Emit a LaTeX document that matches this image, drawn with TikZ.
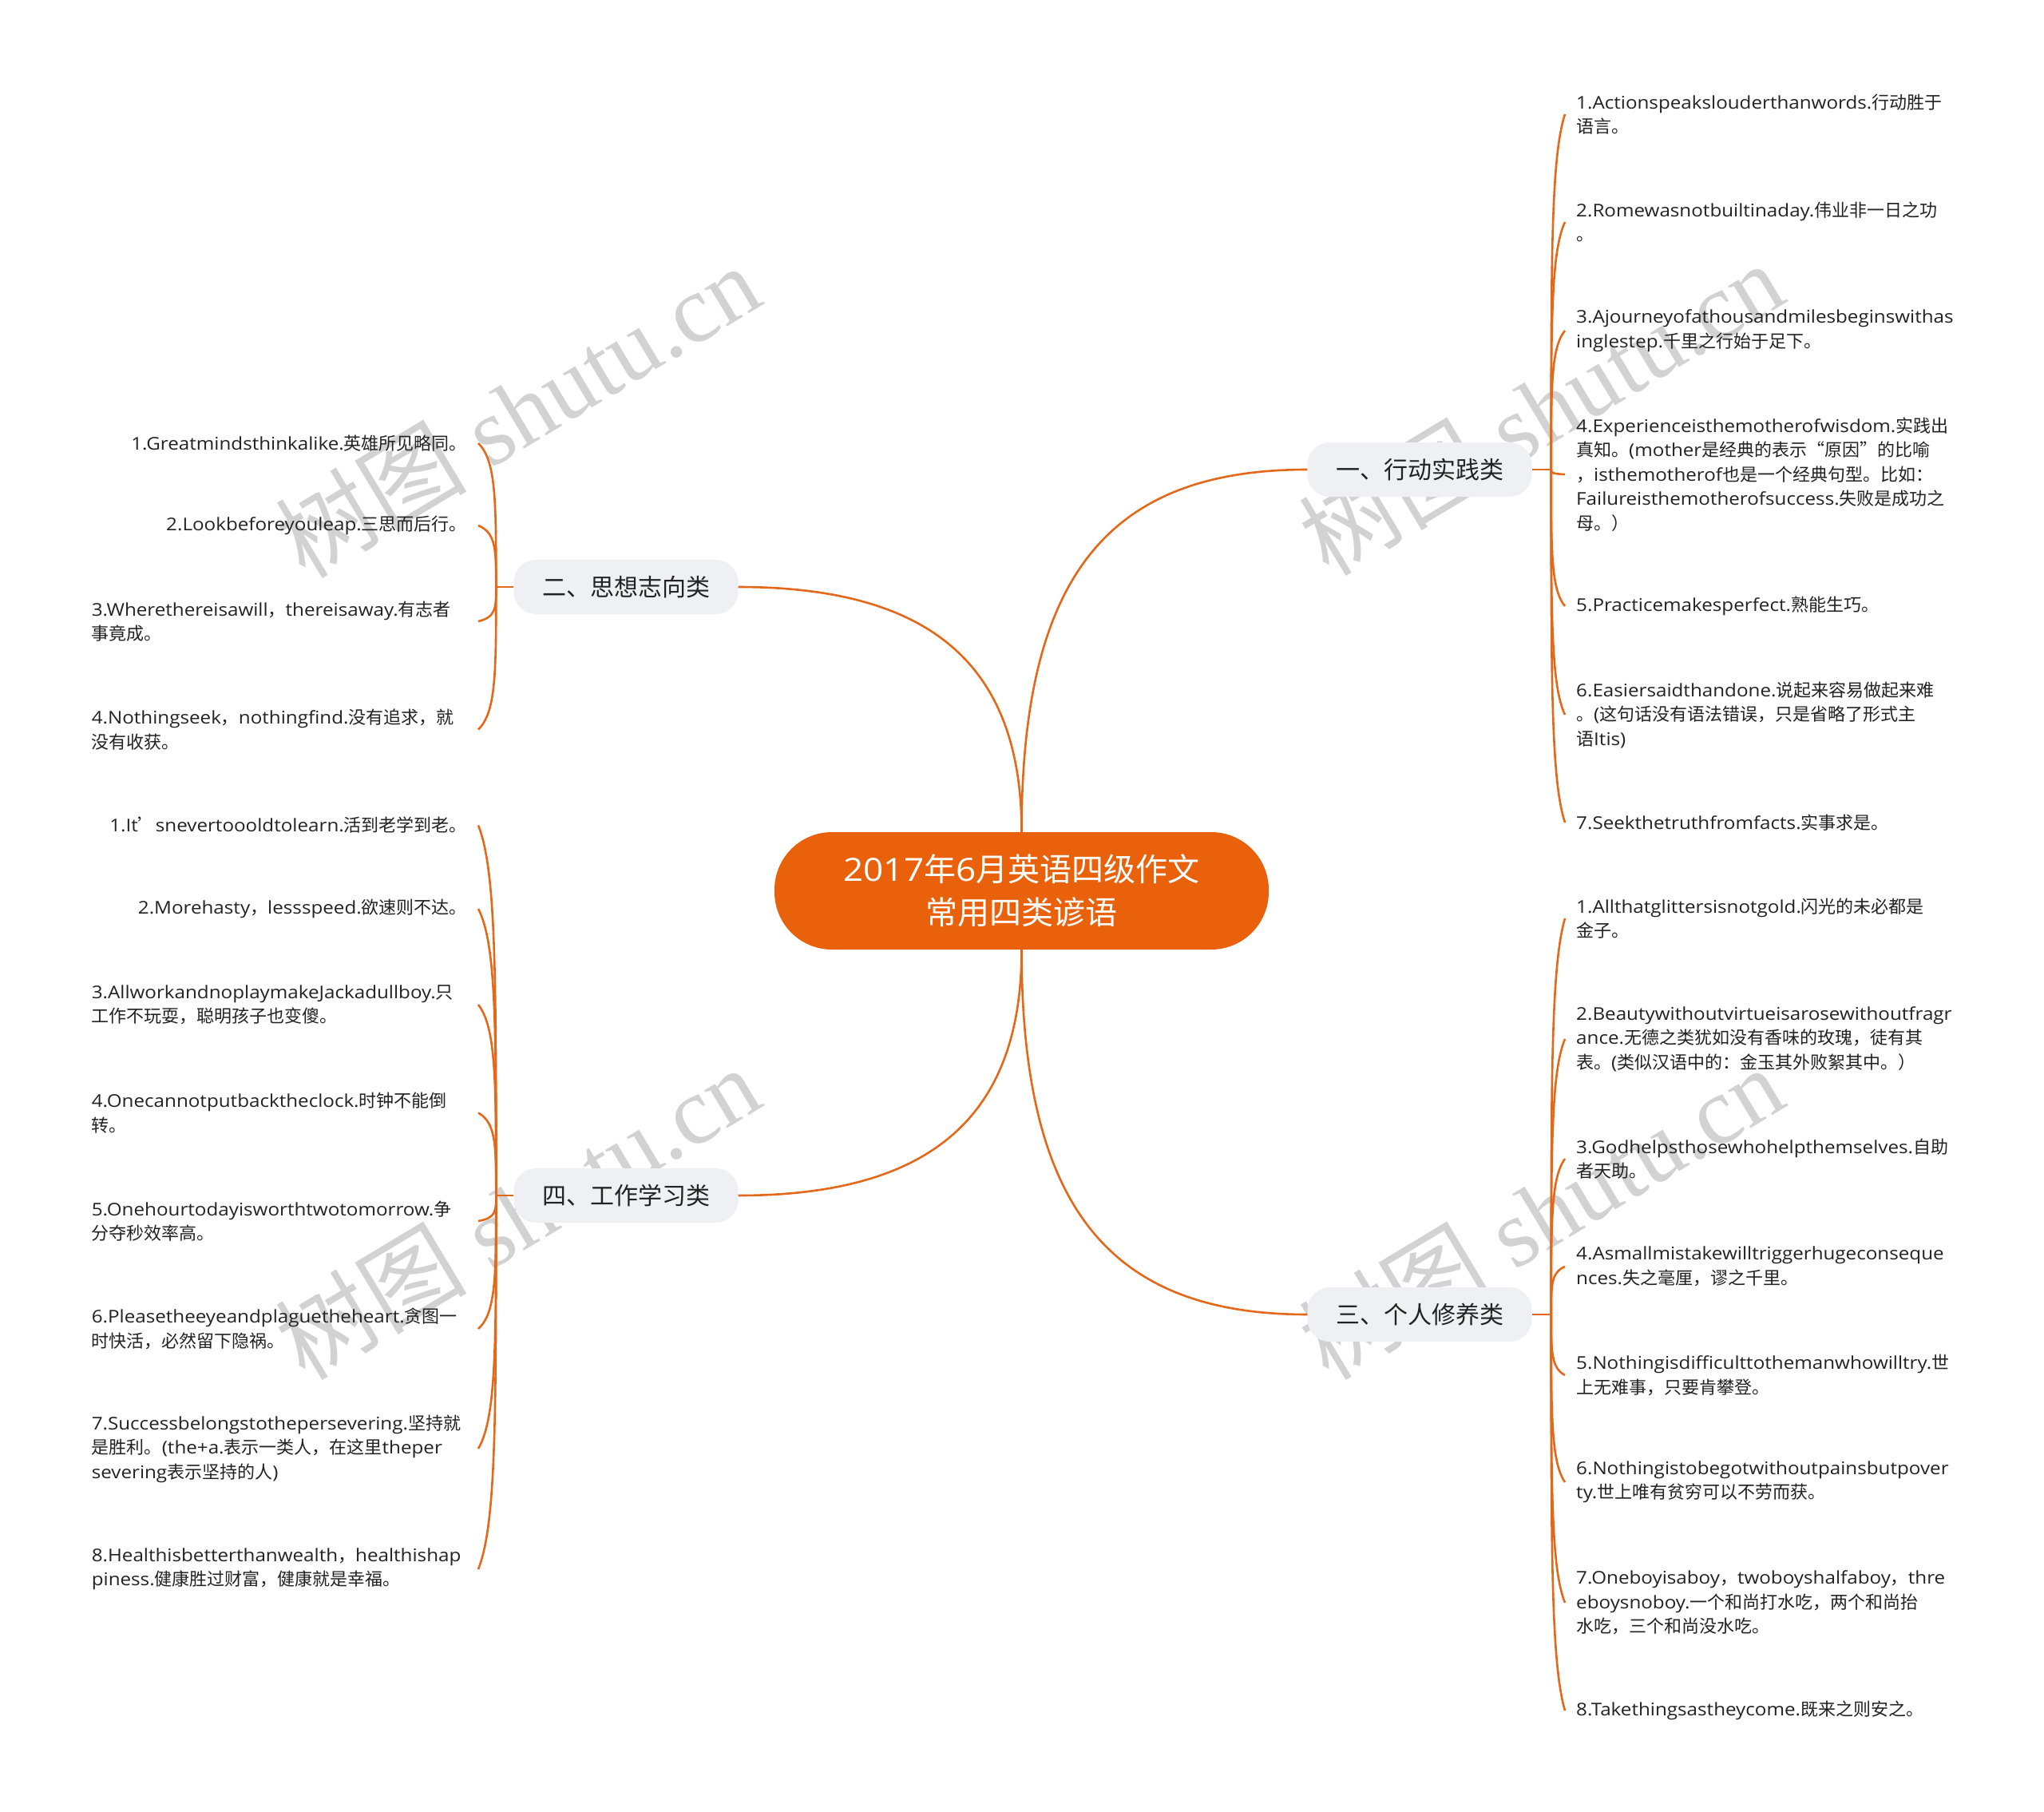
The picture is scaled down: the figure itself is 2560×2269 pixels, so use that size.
\documentclass[tikz,border=0pt]{standalone}
\usepackage{fontspec}
\usetikzlibrary{calc}
\setmainfont{Open Sans}[FakeStretch=1.1]
\newfontfamily\cjkfont{Noto Sans CJK SC}
\newfontfamily\wmserif{Liberation Serif}
\hyphenpenalty=10000
\exhyphenpenalty=10000
\XeTeXinterchartokenstate=1
\newXeTeXintercharclass\cjkcls
\newcount\cjkc
\cjkc="4E00
\loop\XeTeXcharclass\cjkc=\cjkcls\ifnum\cjkc<"9FFF\advance\cjkc by 1\repeat
\cjkc="3000
\loop\XeTeXcharclass\cjkc=\cjkcls\ifnum\cjkc<"303F\advance\cjkc by 1\repeat
\cjkc="FF00
\loop\XeTeXcharclass\cjkc=\cjkcls\ifnum\cjkc<"FFEF\advance\cjkc by 1\repeat
\XeTeXcharclass"2018=\cjkcls
\XeTeXcharclass"2019=\cjkcls
\XeTeXcharclass"201C=\cjkcls
\XeTeXcharclass"201D=\cjkcls
\XeTeXinterchartoks 0 \cjkcls={\begingroup\cjkfont}
\XeTeXinterchartoks 4095 \cjkcls={\begingroup\cjkfont}
\XeTeXinterchartoks \cjkcls 0={\endgroup}
\XeTeXinterchartoks \cjkcls 4095={\endgroup}

\definecolor{orn}{RGB}{233,97,10}
\definecolor{lineor}{RGB}{228,104,26}
\definecolor{bfill}{RGB}{238,240,244}
\definecolor{txt}{RGB}{34,34,34}
\definecolor{wm}{RGB}{210,210,210}

\tikzset{
  conn/.style={draw=lineor, line width=2.6pt},
  central/.style={fill=orn, text=white, rounded corners=72pt, minimum width=619pt,
    minimum height=147pt, align=center, inner sep=0pt, font=\fontsize{40}{54}\selectfont},
  branch/.style={fill=bfill, text=txt, rounded corners=28pt, minimum width=281pt,
    minimum height=68pt, inner sep=0pt, font=\fontsize{30}{36}\selectfont},
  leafR/.style={anchor=west, inner xsep=14pt, inner ysep=0pt, text=txt, align=left,
    font=\fontsize{22}{30.5}\selectfont},
  leafL/.style={anchor=east, inner xsep=14pt, inner ysep=0pt, text=txt, align=left,
    font=\fontsize{22}{30.5}\selectfont},
  wide/.style={text width=470pt},
  wmark/.style={text=wm, rotate=31, inner sep=0pt, font=\fontsize{120}{120}\wmserif}
}

\newcommand\brR[2]{\draw[conn] (#1) .. controls ($(#1)!0.6!(#1|-#2.west)$) and ($(#1|-#2.west)!0.12!(#1)$) .. (#2.west);}
\newcommand\brL[2]{\draw[conn] (#1) .. controls ($(#1)!0.6!(#1|-#2.east)$) and ($(#1|-#2.east)!0.12!(#1)$) .. (#2.east);}

\begin{document}
\begin{tikzpicture}[x=1pt,y=-1pt]
\useasboundingbox (0,0) rectangle (2560,2269);
\fill[white] (0,0) rectangle (2560,2269);

% watermarks
\node[wmark] (w1) at (648,514) {树图 shutu.cn};
\node[wmark] (w2) at (1930,511) {树图 shutu.cn};
\node[wmark] (w3) at (648,1518) {树图 shutu.cn};
\node[wmark] (w4) at (1930,1518) {树图 shutu.cn};

% central and branches
\node[central] (c) at (1279.5,1115.5) {2017年6月英语四级作文\\常用四类谚语};
\node[branch] (b1) at (1778,588) {一、行动实践类};
\node[branch] (b3) at (1778,1646) {三、个人修养类};
\node[branch] (b2) at (784,735) {二、思想志向类};
\node[branch] (b4) at (784,1497) {四、工作学习类};

\draw[conn] (c.north) .. controls +(0,-320) and +(-250,0) .. (b1.west);
\draw[conn] (c.north) .. controls +(0,-210) and +(240,0) .. (b2.east);
\draw[conn] (c.south) .. controls +(0,320) and +(-250,0) .. (b3.west);
\draw[conn] (c.south) .. controls +(0,210) and +(240,0) .. (b4.east);

\coordinate (s1) at ($(b1.east)+(24,0)$);
\coordinate (s3) at ($(b3.east)+(24,0)$);
\coordinate (s2) at ($(b2.west)+(-22,0)$);
\coordinate (s4) at ($(b4.west)+(-22,0)$);
\draw[conn] (b1.east) -- (s1);
\draw[conn] (b3.east) -- (s3);
\draw[conn] (b2.west) -- (s2);
\draw[conn] (b4.west) -- (s4);

% right leaves of b1
\node[leafR] (r11) at (1960,143) {1.Actionspeakslouderthanwords.行动胜于\\语言。};
\node[leafR] (r12) at (1960,278) {2.Romewasnotbuiltinaday.伟业非一日之功\\。};
\node[leafR] (r13) at (1960,414) {3.Ajourneyofathousandmilesbeginswithas\\inglestep.千里之行始于足下。};
\node[leafR] (r14) at (1960,594) {4.Experienceisthemotherofwisdom.实践出\\真知。(mother是经典的表示“原因”的比喻\\，isthemotherof也是一个经典句型。比如：\\Failureisthemotherofsuccess.失败是成功之\\母。）};
\node[leafR] (r15) at (1960,759) {5.Practicemakesperfect.熟能生巧。};
\node[leafR] (r16) at (1960,895) {6.Easiersaidthandone.说起来容易做起来难\\。(这句话没有语法错误，只是省略了形式主\\语Itis)};
\node[leafR] (r17) at (1960,1030) {7.Seekthetruthfromfacts.实事求是。};

% right leaves of b3
\node[leafR] (r31) at (1960,1150) {1.Allthatglittersisnotgold.闪光的未必都是\\金子。};
\node[leafR] (r32) at (1960,1301) {2.Beautywithoutvirtueisarosewithoutfragr\\ance.无德之类犹如没有香味的玫瑰，徒有其\\表。(类似汉语中的：金玉其外败絮其中。）};
\node[leafR] (r33) at (1960,1451) {3.Godhelpsthosewhohelpthemselves.自助\\者天助。};
\node[leafR] (r34) at (1960,1586) {4.Asmallmistakewilltriggerhugeconseque\\nces.失之毫厘，谬之千里。};
\node[leafR] (r35) at (1960,1722) {5.Nothingisdifficulttothemanwhowilltry.世\\上无难事，只要肯攀登。};
\node[leafR] (r36) at (1960,1856) {6.Nothingistobegotwithoutpainsbutpover\\ty.世上唯有贫穷可以不劳而获。};
\node[leafR] (r37) at (1960,2007) {7.Oneboyisaboy，twoboyshalfaboy，thre\\eboysnoboy.一个和尚打水吃，两个和尚抬\\水吃，三个和尚没水吃。};
\node[leafR] (r38) at (1960,2142) {8.Takethingsastheycome.既来之则安之。};

% left leaves of b2
\node[leafL] (l21) at (599,555) {1.Greatmindsthinkalike.英雄所见略同。};
\node[leafL] (l22) at (599,658) {2.Lookbeforeyouleap.三思而后行。};
\node[leafL,wide] (l23) at (599,778) {3.Wherethereisawill，thereisaway.有志者\\事竟成。};
\node[leafL,wide] (l24) at (599,913.5) {4.Nothingseek，nothingfind.没有追求，就\\没有收获。};

% left leaves of b4
\node[leafL] (l41) at (599,1033.5) {1.It’snevertoooldtolearn.活到老学到老。};
\node[leafL] (l42) at (599,1138) {2.Morehasty，lessspeed.欲速则不达。};
\node[leafL,wide] (l43) at (599,1258) {3.AllworkandnoplaymakeJackadullboy.只\\工作不玩耍，聪明孩子也变傻。};
\node[leafL,wide] (l44) at (599,1393.5) {4.Onecannotputbacktheclock.时钟不能倒\\转。};
\node[leafL,wide] (l45) at (599,1529) {5.Onehourtodayisworthtwotomorrow.争\\分夺秒效率高。};
\node[leafL,wide] (l46) at (599,1664) {6.Pleasetheeyeandplaguetheheart.贪图一\\时快活，必然留下隐祸。};
\node[leafL,wide] (l47) at (599,1814) {7.Successbelongstothepersevering.坚持就\\是胜利。(the+a.表示一类人，在这里theper\\severing表示坚持的人)};
\node[leafL,wide] (l48) at (599,1965) {8.Healthisbetterthanwealth，healthishap\\piness.健康胜过财富，健康就是幸福。};

% bracket connectors
\foreach \n in {r11,r12,r13,r14,r15,r16,r17} {\brR{s1}{\n}}
\foreach \n in {r31,r32,r33,r34,r35,r36,r37,r38} {\brR{s3}{\n}}
\foreach \n in {l21,l22,l23,l24} {\brL{s2}{\n}}
\foreach \n in {l41,l42,l43,l44,l45,l46,l47,l48} {\brL{s4}{\n}}
\end{tikzpicture}
\end{document}
